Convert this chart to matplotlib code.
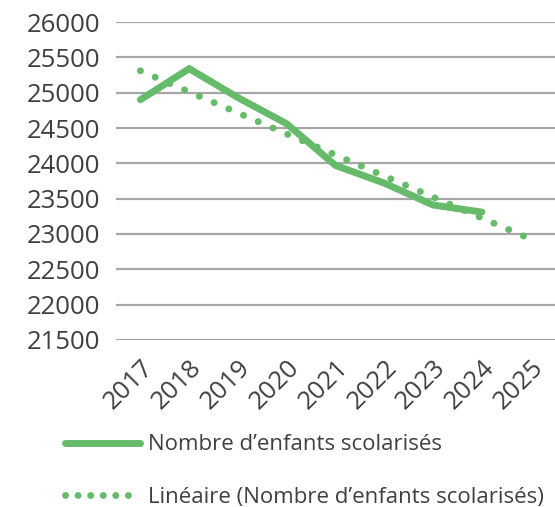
import matplotlib
matplotlib.use("Agg")
import matplotlib.pyplot as plt
import numpy as np
from matplotlib.lines import Line2D

plt.rcParams['font.family'] = ['Open Sans', 'DejaVu Sans']

years = ["2017", "2018", "2019", "2020", "2021", "2022", "2023", "2024", "2025"]
enfants = [24900, 25340, 24930, 24560, 23970, 23720, 23410, 23310]
label_data = "Nombre d\u2019enfants scolarisés"
label_trend = "Linéaire (Nombre d\u2019enfants scolarisés)"
yticks = [21500, 22000, 22500, 23000, 23500, 24000, 24500, 25000, 25500, 26000]

green = "#66BB6A"
text_col = "#404040"

fig = plt.figure(figsize=(5.55, 5.07), dpi=100)
ax = fig.add_axes([0.209, 0.3294, 0.791, 0.6272])

x = np.arange(len(enfants))
ax.plot(x, enfants, color=green, lw=5, solid_capstyle='round', solid_joinstyle='miter', zorder=3)

coef = np.polyfit(x, enfants, 1)
xt = np.arange(len(years))
ax.plot(xt, np.polyval(coef, xt), color=green, lw=5, linestyle=(0, (0.01, 2.3)),
        dash_capstyle='round', zorder=4)

ax.set_ylim(21500, 26000)
ax.set_yticks(yticks)
ax.set_xlim(-0.5, 8.5)
ax.set_xticks(xt)
ax.set_xticklabels(years, rotation=45, ha='right', va='top', rotation_mode='anchor')
ax.tick_params(axis='both', length=0, labelsize=18.5, labelcolor=text_col)
ax.tick_params(axis='y', pad=11)
ax.tick_params(axis='x', pad=11)
ax.grid(axis='y', color='#A6A6A6', lw=1.6)
ax.set_axisbelow(True)
for s in ax.spines.values():
    s.set_visible(False)

handles = [Line2D([], [], color=green, lw=5, solid_capstyle='round'),
           Line2D([], [], color=green, lw=5, linestyle=(0, (0.01, 1.8)), dash_capstyle='round')]
fig.legend(handles, [label_data, label_trend], loc='upper left',
           bbox_to_anchor=(0.117, 0.143), frameon=False, fontsize=16,
           handlelength=3.4, handletextpad=0.36, labelspacing=1.4,
           borderpad=0, borderaxespad=0, labelcolor=text_col)

fig.savefig("out.png", dpi=100)
